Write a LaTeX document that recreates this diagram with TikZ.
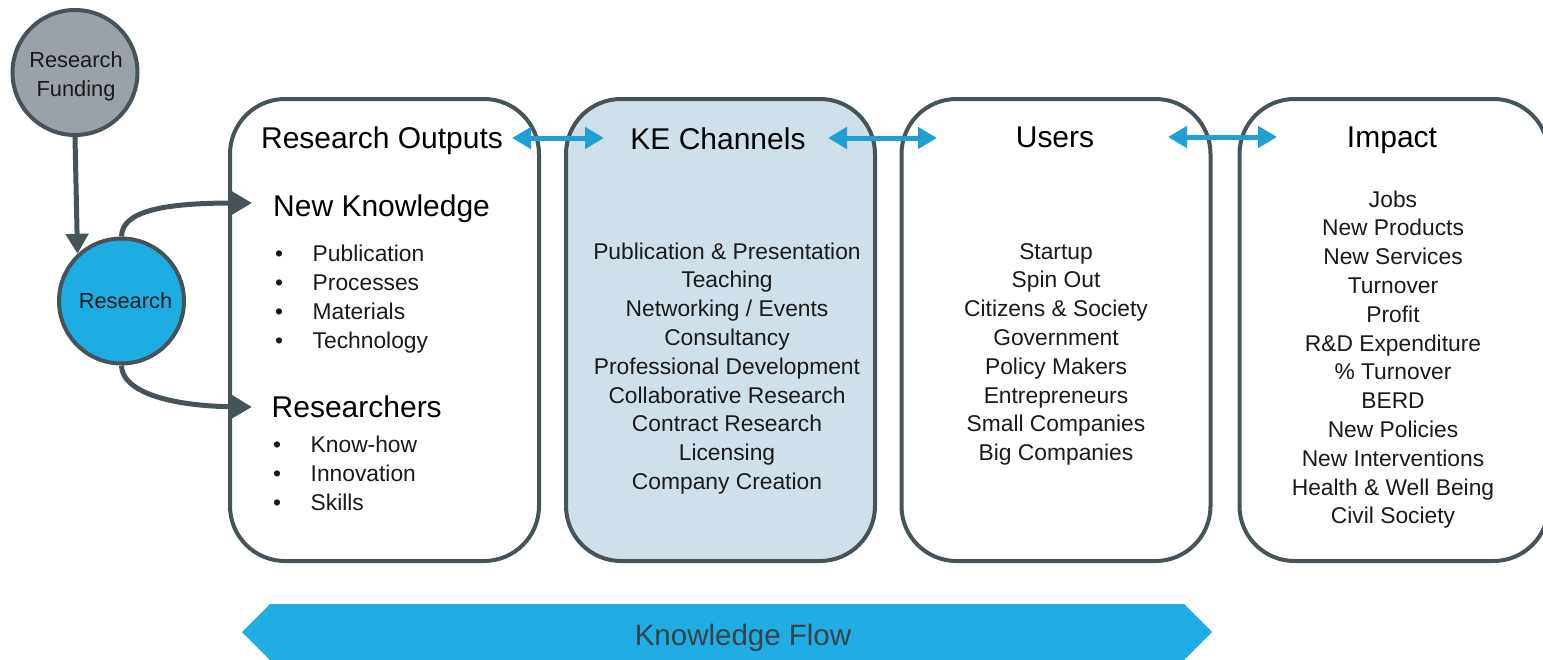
\documentclass[tikz,border=0pt]{standalone}
\usepackage{fontspec}
\setmainfont{Liberation Sans}
\usetikzlibrary{arrows.meta}
\definecolor{edgec}{HTML}{465358}
\definecolor{fundgray}{HTML}{9AA1A9}
\definecolor{resblue}{HTML}{1EADE2}
\definecolor{kefill}{HTML}{CFE0EA}
\definecolor{dblblue}{HTML}{1F9FD3}
\definecolor{flowblue}{HTML}{1FADE3}
\definecolor{txt}{HTML}{1A1A1A}
\definecolor{flowtxt}{HTML}{37424A}
\begin{document}
\begin{tikzpicture}[x=1pt,y=-1pt,
  circ/.style={circle,draw=edgec,line width=4pt,minimum size=125pt,inner sep=0pt},
  circlbl/.style={align=center,font=\fontsize{21.8}{29}\selectfont,text=txt,inner sep=0pt},
  panel/.style={rectangle,draw=edgec,line width=4pt,rounded corners=55pt,minimum width=309pt,minimum height=462pt,inner sep=0pt},
  title/.style={anchor=base,font=\fontsize{30}{36}\selectfont,text=black,inner sep=0pt},
  head/.style={anchor=base west,font=\fontsize{30}{36}\selectfont,text=black,inner sep=0pt},
  item/.style={anchor=base,font=\fontsize{22.8}{28}\selectfont,text=txt,inner sep=0pt},
  litem/.style={anchor=base west,font=\fontsize{22.8}{28}\selectfont,text=txt,inner sep=0pt},
  flowarrow/.style={draw=edgec,line width=5pt,-{Triangle[length=20pt,width=22pt]}},
  dbl/.style={draw=dblblue,line width=5pt,{Triangle[length=19pt,width=21pt]}-{Triangle[length=19pt,width=21pt]}},
]
\useasboundingbox (0,0) rectangle (1543,659);
\clip (0,0) rectangle (1543,659);

% panels
\node[panel,fill=white]  (outputs) at (384.5,330) {};
\node[panel,fill=kefill] (channels) at (720.5,330) {};
\node[panel,fill=white]  (users) at (1056,330) {};
\node[panel,fill=white]  (impact) at (1394,330) {};

% circles
\node[circ,fill=fundgray] (fund) at (75,72.5) {};
\node[circlbl] (fundlbl) at (76,76) {Research\\Funding};
\node[circ,fill=resblue] (res) at (121.5,301) {};
\node[circlbl] (reslbl) at (125.5,301) {Research};

% titles
\node[title] (t1) at (382,148) {Research Outputs};
\node[title] (t2) at (718,149) {KE Channels};
\node[title] (t3) at (1055,147) {Users};
\node[title] (t4) at (1392,147) {Impact};

% Research outputs content
\node[head] (nk) at (273,216) {New Knowledge};
\node[head] (rs) at (271.5,417) {Researchers};
\foreach [count=\i from 0] \t in {Publication,Processes,Materials,Technology}{
  \node[item] (nkb\i) at (279,261+29*\i) {•};
  \node[litem] (nkt\i) at (312.5,261+29*\i) {\t};
}
\foreach [count=\i from 0] \t in {Know-how,Innovation,Skills}{
  \node[item] (rsb\i) at (277,452+29*\i) {•};
  \node[litem] (rst\i) at (310.5,452+29*\i) {\t};
}

% KE channels
\foreach [count=\i from 0] \t in {Publication \& Presentation,Teaching,Networking / Events,Consultancy,Professional Development,Collaborative Research,Contract Research,Licensing,Company Creation}{
  \node[item] (ke\i) at (727,259+28.8*\i) {\t};
}
% Users
\foreach [count=\i from 0] \t in {Startup,Spin Out,Citizens \& Society,Government,Policy Makers,Entrepreneurs,Small Companies,Big Companies}{
  \node[item] (us\i) at (1056,259+28.8*\i) {\t};
}
% Impact
\foreach [count=\i from 0] \t in {Jobs,New Products,New Services,Turnover,Profit,R\&D Expenditure,\% Turnover,BERD,New Policies,New Interventions,Health \& Well Being,Civil Society}{
  \node[item] (im\i) at (1393,207+28.8*\i) {\t};
}

% connectors from circles
\coordinate (nkin) at (252,203);
\coordinate (rsin) at (252,407);
\draw[flowarrow] (fund.south) -- (res.133);
\draw[flowarrow] (res.north) .. controls (122,212) and (160,203) .. (nkin);
\draw[flowarrow] (res.south) .. controls (122,392) and (170,406) .. (rsin);

% double arrows
\coordinate (a1l) at (512,138); \coordinate (a1r) at (604,138);
\coordinate (a2l) at (828,138); \coordinate (a2r) at (937,138);
\coordinate (a3l) at (1168,137); \coordinate (a3r) at (1277,137);
\draw[dbl] (a1l) -- (a1r);
\draw[dbl] (a2l) -- (a2r);
\draw[dbl] (a3l) -- (a3r);

% knowledge flow
\fill[flowblue] (242,632) -- (270,604) -- (1184,604) -- (1212,632) -- (1184,660) -- (270,660) -- cycle;
\node[anchor=base,font=\fontsize{29.5}{34}\selectfont,text=flowtxt,inner sep=0pt] (kf) at (743,645) {Knowledge Flow};
\end{tikzpicture}
\end{document}
